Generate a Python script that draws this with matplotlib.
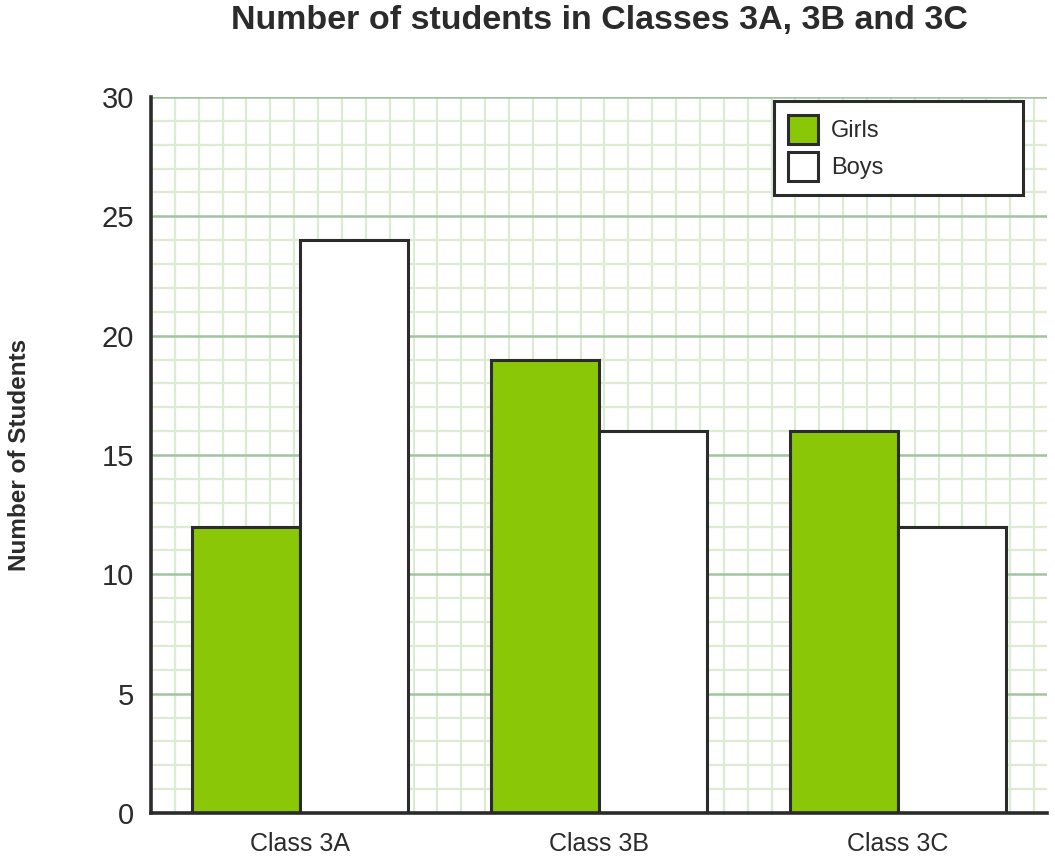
import matplotlib
matplotlib.use("Agg")
import matplotlib.pyplot as plt
import numpy as np
from matplotlib.patches import Patch

categories = ["Class 3A", "Class 3B", "Class 3C"]
girls = [12, 19, 16]
boys = [24, 16, 12]
series_names = ["Girls", "Boys"]
y_ticks = [0, 5, 10, 15, 20, 25, 30]

plt.rcParams['font.family'] = ['Liberation Sans', 'DejaVu Sans']
DARK = "#2b2b2b"
GREEN = "#8AC707"
MAJOR = "#a3c4a0"
MINOR = "#dcebd2"

fig = plt.figure(figsize=(10.55, 8.61), dpi=100)
ax = fig.add_axes([151/1055, (861-813)/861, 896/1055, 716/861])

x = np.arange(len(categories))
w = 0.3616
ax.set_xlim(-0.5, 2.5)
ax.set_ylim(0, 30)

# grid: square minor grid, major every 5 on y
ax_w_px = 896
ax_h_px = 716
unit_px = ax_h_px / 30.0
dx = unit_px / (ax_w_px / 3.0)
k = 1
while -0.5 + k * dx < 2.5:
    ax.axvline(-0.5 + k * dx, color=MINOR, lw=1.6, zorder=0.5)
    k += 1
for yv in range(1, 31):
    if yv % 5 != 0:
        ax.axhline(yv, color=MINOR, lw=1.6, zorder=0.5)
for yv in range(5, 31, 5):
    ax.axhline(yv, color=MAJOR, lw=1.8, zorder=0.6)

ax.bar(x - w/2, girls, w, color=GREEN, edgecolor=DARK, linewidth=2.2, zorder=2, label=series_names[0])
ax.bar(x + w/2, boys, w, color="white", edgecolor=DARK, linewidth=2.2, zorder=2, label=series_names[1])

for s in ["top", "right"]:
    ax.spines[s].set_visible(False)
for s in ["left", "bottom"]:
    ax.spines[s].set_color(DARK)
    ax.spines[s].set_linewidth(2.6)
    ax.spines[s].set_zorder(3)

ax.set_xticks(x)
ax.set_xticklabels(categories, fontsize=18, color=DARK)
ax.set_yticks(y_ticks)
ax.set_yticklabels([str(v) for v in y_ticks], fontsize=21, color=DARK)
ax.tick_params(axis='both', length=0)
ax.tick_params(axis='y', pad=12)
ax.tick_params(axis='x', pad=14)

ax.set_ylabel("Number of Students", fontsize=17.5, fontweight="bold", color=DARK)
ax.yaxis.set_label_coords(-(151-31)/896, 0.5)

fig.text(599/1055, 1 - 21/861, "Number of students in Classes 3A, 3B and 3C",
         ha="center", va="center", fontsize=24.5, fontweight="bold", color=DARK)

handles = [Patch(facecolor=GREEN, edgecolor=DARK, linewidth=2.2),
           Patch(facecolor="white", edgecolor=DARK, linewidth=2.2)]
x0 = (774-151)/896
x1 = (1023-151)/896
y1 = (813-101)/716
leg = ax.legend(handles, series_names, loc="upper left",
                bbox_to_anchor=(x0, y1 - 0.2, x1 - x0, 0.2), mode="expand",
                fontsize=17, frameon=True, fancybox=False,
                handlelength=1.25, handleheight=1.5, handletextpad=0.55,
                labelspacing=0.35, borderpad=0.6, borderaxespad=0,
                labelcolor=DARK)
leg.get_frame().set_edgecolor(DARK)
leg.get_frame().set_linewidth(2.2)
leg.get_frame().set_alpha(1)
leg.set_zorder(5)

fig.savefig("out.png", dpi=100)
